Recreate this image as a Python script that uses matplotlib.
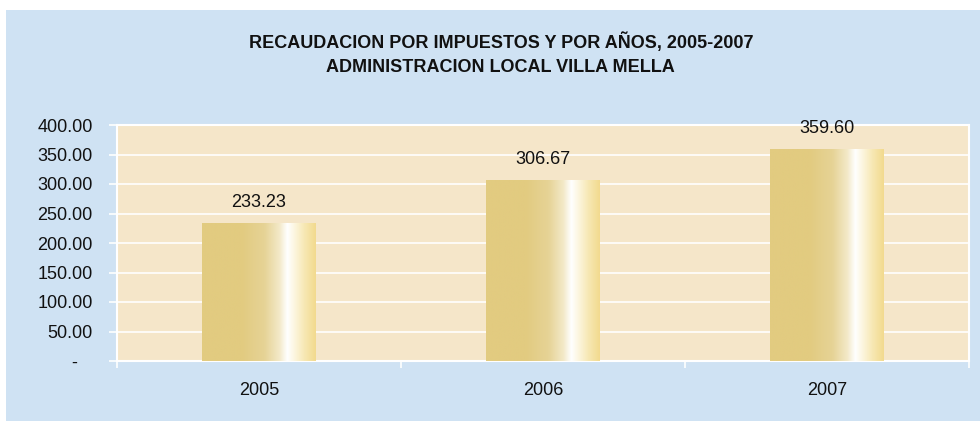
import matplotlib.pyplot as plt
import numpy as np
from matplotlib.colors import LinearSegmentedColormap
from matplotlib.patches import Rectangle

plt.rcParams['font.family'] = ['Liberation Sans', 'DejaVu Sans']

years = ['2005', '2006', '2007']
recaudacion = [233.23, 306.67, 359.60]
y_ticks = [0, 50, 100, 150, 200, 250, 300, 350, 400]
y_labels = ['-   ', '50.00', '100.00', '150.00', '200.00', '250.00', '300.00', '350.00', '400.00']

title_1 = 'RECAUDACION POR IMPUESTOS Y POR AÑOS, 2005-2007'
title_2 = 'ADMINISTRACION LOCAL VILLA MELLA'

bg_blue = '#cfe2f3'
plot_bg = '#f5e6c9'

# horizontal gradient across each bar: gold -> white highlight -> gold
gold = LinearSegmentedColormap.from_list('gold', [
    (0.00, '#e2cb80'), (0.35, '#e2cb80'), (0.55, '#e6d396'),
    (0.68, '#f3e9c8'), (0.75, '#ffffff'), (0.80, '#fdf8e6'),
    (0.90, '#f7e8b4'), (1.00, '#f2da8e')])

fig = plt.figure(figsize=(9.8, 4.21), dpi=100)
fig.patch.set_facecolor('white')
fig.add_artist(Rectangle((6 / 980, 0), 1, 1 - 10 / 421, transform=fig.transFigure,
                         facecolor=bg_blue, edgecolor='none', zorder=-10))

ax = fig.add_axes([117 / 980, 1 - 361 / 421, (969 - 117) / 980, (361 - 125) / 421])
ax.set_facecolor(plot_bg)

x = np.arange(len(years))
bars = ax.bar(x, recaudacion, width=0.40, color='none', edgecolor='none', zorder=3)
grad = np.linspace(0, 1, 256).reshape(1, -1)
for b, v in zip(bars, recaudacion):
    bx, by = b.get_x(), b.get_y()
    im = ax.imshow(grad, cmap=gold, aspect='auto', zorder=3,
                   extent=(bx, bx + b.get_width(), by, by + b.get_height()))
    im.set_clip_path(b)
    ax.annotate(f'{v:.2f}', (b.get_x() + b.get_width() / 2, v),
                xytext=(0, 15), textcoords='offset points',
                ha='center', va='center', fontsize=13, color='#111111')

ax.set_xlim(-0.5, len(years) - 0.5)
ax.set_ylim(0, 400)

ax.set_yticks(y_ticks)
ax.set_yticklabels(y_labels)
ax.yaxis.grid(True, color='white', linewidth=1.2)
ax.set_axisbelow(True)

ax.set_xticks(x)
ax.set_xticklabels(years)
ax.set_xticks(np.arange(len(years) + 1) - 0.5, minor=True)
ax.tick_params(axis='x', which='major', length=0, pad=15, labelsize=13, colors='#111111')
ax.tick_params(axis='x', which='minor', length=5, color='white', width=1.2)
ax.tick_params(axis='y', length=6, color='white', width=1.2, pad=11.5,
               labelsize=13, labelcolor='#111111')

for s in ax.spines.values():
    s.set_color('white')
    s.set_linewidth(1.5)

fig.text(0.511, 1 - 42 / 421, title_1, ha='center', va='center', fontsize=13,
         fontweight='bold', color='#111111')
fig.text(0.511, 1 - 67 / 421, title_2, ha='center', va='center', fontsize=13,
         fontweight='bold', color='#111111')

fig.savefig('out.png', dpi=100, facecolor=fig.get_facecolor())
